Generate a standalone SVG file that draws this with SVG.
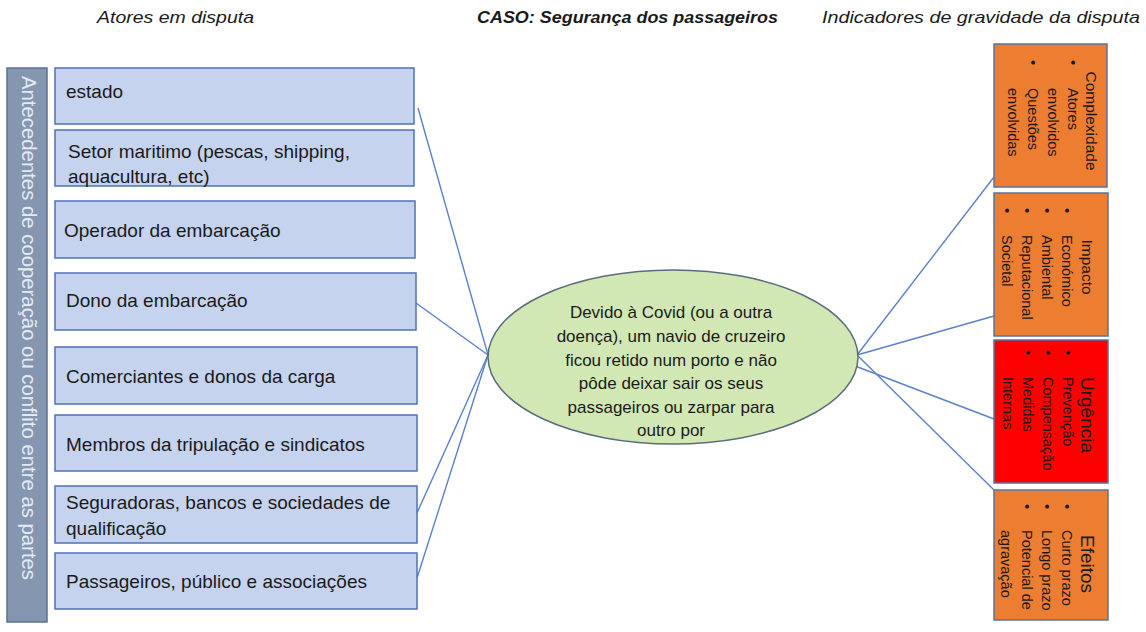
<svg xmlns="http://www.w3.org/2000/svg" width="1146" height="632" viewBox="0 0 1146 632">
<style>
  .hdr{font-family:"Liberation Sans",Arial,sans-serif;font-size:17px;fill:#1a1a1a;font-style:italic}
  .actor rect{fill:#c5d3ef;stroke:#4f72b8;stroke-width:1.5}
  .actor text{font-family:"Liberation Sans",Arial,sans-serif;font-size:19px;fill:#1a1a1a}
  .ind rect{stroke:#5b7399;stroke-width:1.5}
  .ind text{font-family:"Liberation Sans",Arial,sans-serif;font-size:14.5px;fill:#1a1a1a}
  .ind .ttl{font-size:15.5px}
  .ind .big{font-size:19px}
  .conn line{stroke:#5b80cc;stroke-width:1.4}
</style>
<rect width="1146" height="632" fill="#ffffff"/>

<g id="headers">
  <text class="hdr" x="97" y="23" textLength="157" lengthAdjust="spacingAndGlyphs">Atores em disputa</text>
  <text class="hdr" x="477" y="23" font-weight="bold" textLength="301" lengthAdjust="spacingAndGlyphs">CASO: Segurança dos passageiros</text>
  <text class="hdr" x="822" y="23" textLength="318" lengthAdjust="spacingAndGlyphs">Indicadores de gravidade da disputa</text>
</g>

<g id="antecedentes">
  <rect x="7" y="68" width="40" height="554" fill="#8596b0" stroke="#5d7091" stroke-width="1.5"/>
  <g transform="translate(22,76) rotate(90)">
    <text x="0" y="0" font-family="Liberation Sans, Arial, sans-serif" font-size="20" fill="#e4e9f2" textLength="504" lengthAdjust="spacingAndGlyphs">Antecedentes de cooperação ou conflito entre as partes</text>
  </g>
</g>

<g class="conn" id="connectors">
  <line x1="418" y1="108" x2="488" y2="355"/>
  <line x1="416" y1="303" x2="488" y2="355"/>
  <line x1="417" y1="513" x2="488" y2="355"/>
  <line x1="417" y1="578" x2="488" y2="355"/>
  <line x1="857" y1="355" x2="994" y2="177"/>
  <line x1="857" y1="355" x2="994" y2="316"/>
  <line x1="842" y1="361" x2="994" y2="419"/>
  <line x1="857" y1="355" x2="995" y2="491"/>
</g>

<g class="actor" id="a-estado">
  <rect x="55" y="68" width="359" height="56"/>
  <text x="66" y="98">estado</text>
</g>
<g class="actor" id="a-setor">
  <rect x="55" y="130" width="359" height="56"/>
  <text x="68" y="158">Setor maritimo (pescas, shipping,</text>
  <text x="68" y="183">aquacultura, etc)</text>
</g>
<g class="actor" id="a-operador">
  <rect x="55" y="201" width="360" height="57"/>
  <text x="64" y="237">Operador da embarcação</text>
</g>
<g class="actor" id="a-dono">
  <rect x="55" y="273" width="361" height="57"/>
  <text x="66" y="307">Dono da embarcação</text>
</g>
<g class="actor" id="a-comerciantes">
  <rect x="55" y="347" width="362" height="57"/>
  <text x="66" y="383">Comerciantes e donos da carga</text>
</g>
<g class="actor" id="a-membros">
  <rect x="55" y="415" width="362" height="56"/>
  <text x="66" y="451">Membros da tripulação e sindicatos</text>
</g>
<g class="actor" id="a-seguradoras">
  <rect x="55" y="486" width="362" height="57"/>
  <text x="66" y="509">Seguradoras, bancos e sociedades de</text>
  <text x="66" y="535">qualificação</text>
</g>
<g class="actor" id="a-passageiros">
  <rect x="55" y="553" width="362" height="56"/>
  <text x="66" y="588">Passageiros, público e associações</text>
</g>

<g id="caso">
  <ellipse cx="673" cy="357" rx="185" ry="87" fill="#d2e8b4" stroke="#5a6c7e" stroke-width="1.5"/>
  <g font-family="Liberation Sans, Arial, sans-serif" font-size="17" fill="#1a1a1a" text-anchor="middle">
    <text x="671" y="318">Devido à Covid (ou a outra</text>
    <text x="671" y="342">doença), um navio de cruzeiro</text>
    <text x="671" y="366">ficou retido num porto e não</text>
    <text x="671" y="389">pôde deixar sair os seus</text>
    <text x="671" y="413">passageiros ou zarpar para</text>
    <text x="671" y="436">outro por</text>
  </g>
</g>

<g class="ind" id="i-complexidade">
  <rect x="994" y="44" width="113" height="143" fill="#ed7d31"/>
  <g transform="translate(1107,44) rotate(90)">
    <text class="ttl" x="77" y="21" text-anchor="middle">Complexidade</text>
    <text x="16" y="39">•</text><text x="44" y="39">Atores</text>
    <text x="44" y="59">envolvidos</text>
    <text x="16" y="79">•</text><text x="44" y="79">Questões</text>
    <text x="44" y="99">envolvidas</text>
  </g>
</g>
<g class="ind" id="i-impacto">
  <rect x="994" y="193" width="114" height="143" fill="#ed7d31"/>
  <g transform="translate(1108,193) rotate(90)">
    <text class="ttl" x="74" y="26" text-anchor="middle">Impacto</text>
    <text x="15" y="46">•</text><text x="42" y="46">Económico</text>
    <text x="15" y="66">•</text><text x="42" y="66">Ambiental</text>
    <text x="15" y="86">•</text><text x="42" y="86">Reputacional</text>
    <text x="15" y="106">•</text><text x="42" y="106">Societal</text>
  </g>
</g>
<g class="ind" id="i-urgencia">
  <rect x="994" y="340" width="114" height="143" fill="#ff0000"/>
  <g transform="translate(1108,340) rotate(90)">
    <text class="big" x="75" y="27" text-anchor="middle" fill="#4a0000">Urgência</text>
    <text x="10" y="45" fill="#4a0000">•</text><text x="37" y="45" fill="#4a0000">Prevenção</text>
    <text x="10" y="65" fill="#4a0000">•</text><text x="37" y="65" fill="#4a0000">Compensação</text>
    <text x="10" y="85" fill="#4a0000">•</text><text x="37" y="85" fill="#4a0000">Medidas</text>
    <text x="37" y="105" fill="#4a0000">Internas</text>
  </g>
</g>
<g class="ind" id="i-efeitos">
  <rect x="994" y="490" width="114" height="130" fill="#ed7d31"/>
  <g transform="translate(1108,490) rotate(90)">
    <text class="big" x="74" y="27" text-anchor="middle">Efeitos</text>
    <text x="14" y="46">•</text><text x="40" y="46">Curto prazo</text>
    <text x="14" y="66">•</text><text x="40" y="66">Longo prazo</text>
    <text x="14" y="86">•</text><text x="40" y="86">Potencial de</text>
    <text x="40" y="107">agravação</text>
  </g>
</g>
</svg>
